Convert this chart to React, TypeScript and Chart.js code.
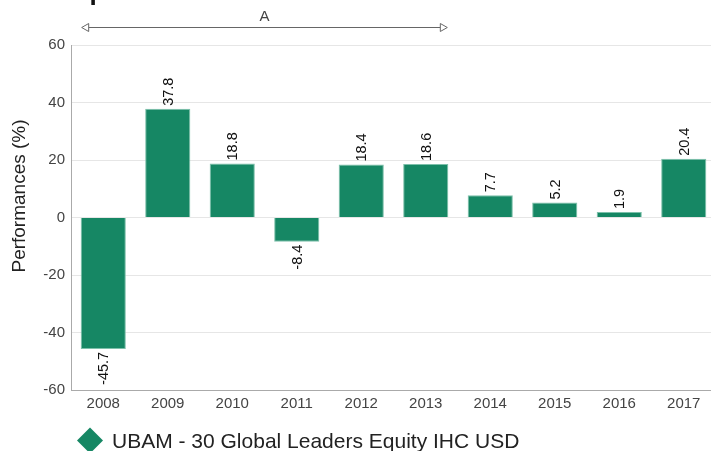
import React, { useEffect, useRef } from "react";
import { Chart, registerables } from "chart.js";

Chart.register(...registerables);

const years = ["2008", "2009", "2010", "2011", "2012", "2013", "2014", "2015", "2016", "2017"];
const performances = [-45.7, 37.8, 18.8, -8.4, 18.4, 18.6, 7.7, 5.2, 1.9, 20.4];
const seriesName = "UBAM - 30 Global Leaders Equity IHC USD";
const yAxisTitle = "Performances (%)";
const periodLabel = "A";
const periodStartIndex = 0;
const periodEndIndex = 5;

const GREEN = "#168764";
const FONT = "'Liberation Sans', Arial, sans-serif";

export default function App() {
  const ref = useRef<HTMLCanvasElement | null>(null);

  useEffect(() => {
    if (!ref.current) return;

    const overlay = {
      id: "overlay",
      afterDatasetsDraw(chart: any) {
        const ctx = chart.ctx;
        const meta = chart.getDatasetMeta(0);
        ctx.save();
        // value labels
        ctx.font = `14.5px ${FONT}`;
        ctx.fillStyle = "#111";
        ctx.textBaseline = "middle";
        meta.data.forEach((el: any, i: number) => {
          const v = performances[i];
          ctx.save();
          if (v >= 0) {
            ctx.translate(el.x, el.y - 3);
            ctx.rotate(-Math.PI / 2);
            ctx.textAlign = "left";
          } else {
            ctx.translate(el.x, el.y + 3);
            ctx.rotate(-Math.PI / 2);
            ctx.textAlign = "right";
          }
          ctx.fillText(String(v), 0, 1);
          ctx.restore();
        });

        // period arrow
        const a: any = meta.data[periodStartIndex];
        const b: any = meta.data[periodEndIndex];
        const x1 = a.x - a.width / 2 + 1;
        const x2 = b.x + b.width / 2 - 1;
        const y = 27;
        ctx.strokeStyle = "#666";
        ctx.lineWidth = 1;
        ctx.beginPath();
        ctx.moveTo(x1 + 7, y + 0.5);
        ctx.lineTo(x2 - 7, y + 0.5);
        ctx.stroke();
        ctx.fillStyle = "#fff";
        ctx.beginPath();
        ctx.moveTo(x1, y + 0.5);
        ctx.lineTo(x1 + 7, y - 3.5);
        ctx.lineTo(x1 + 7, y + 4.5);
        ctx.closePath();
        ctx.fill();
        ctx.stroke();
        ctx.beginPath();
        ctx.moveTo(x2, y + 0.5);
        ctx.lineTo(x2 - 7, y - 3.5);
        ctx.lineTo(x2 - 7, y + 4.5);
        ctx.closePath();
        ctx.fill();
        ctx.stroke();
        ctx.fillStyle = "#444";
        ctx.font = `15px ${FONT}`;
        ctx.textAlign = "center";
        ctx.textBaseline = "middle";
        ctx.fillText(periodLabel, (x1 + x2) / 2, 17);

        // cut-off title descender
        ctx.fillStyle = "#111";
        ctx.font = `bold 26px ${FONT}`;
        ctx.textAlign = "left";
        ctx.textBaseline = "alphabetic";
        ctx.fillText("p", 89.5, 0);

        // y axis title
        ctx.save();
        ctx.translate(20, 196);
        ctx.rotate(-Math.PI / 2);
        ctx.font = `19px ${FONT}`;
        ctx.fillStyle = "#222";
        ctx.textAlign = "center";
        ctx.textBaseline = "middle";
        ctx.fillText(yAxisTitle, 0, 0);
        ctx.restore();

        // legend
        const cx = 90;
        const cy = 440.5;
        const r = 13;
        ctx.fillStyle = GREEN;
        ctx.beginPath();
        ctx.moveTo(cx, cy - r);
        ctx.lineTo(cx + r, cy);
        ctx.lineTo(cx, cy + r);
        ctx.lineTo(cx - r, cy);
        ctx.closePath();
        ctx.fill();
        ctx.fillStyle = "#222";
        ctx.font = `21px ${FONT}`;
        ctx.textAlign = "left";
        ctx.textBaseline = "alphabetic";
        ctx.fillText(seriesName, 112, 448);
        ctx.restore();
      },
    };

    const chart = new Chart(ref.current, {
      type: "bar",
      data: {
        labels: years,
        datasets: [
          {
            label: seriesName,
            data: performances,
            backgroundColor: GREEN,
            borderColor: "#7cc0aa",
            borderWidth: 1,
            barPercentage: 0.7,
            categoryPercentage: 1,
          },
        ],
      },
      options: {
        responsive: false,
        animation: false,
        devicePixelRatio: 1,
        layout: { padding: { top: 45, left: 0, right: 0, bottom: 0 } },
        plugins: {
          legend: { display: false },
          tooltip: { enabled: false },
          title: { display: false },
        },
        scales: {
          x: {
            grid: { display: false, drawTicks: false },
            border: { display: true, color: "#aaa" },
            ticks: { color: "#444", font: { size: 15, family: FONT }, padding: 5, maxRotation: 0 },
            afterFit(scale: any) {
              scale.height = 61;
            },
          },
          y: {
            min: -60,
            max: 60,
            grid: { color: "#e6e6e6", drawTicks: false },
            border: { display: true, color: "#aaa" },
            ticks: { stepSize: 20, color: "#444", font: { size: 15, family: FONT }, padding: 6 },
            afterFit(scale: any) {
              scale.width = 71;
            },
          },
        },
      },
      plugins: [overlay],
    } as any);

    return () => chart.destroy();
  }, []);

  return (
    <div
      style={{
        position: "fixed",
        left: 0,
        top: 0,
        width: 711,
        height: 451,
        overflow: "hidden",
        background: "#fff",
      }}
    >
      <canvas ref={ref} width={716} height={451} style={{ display: "block", width: 716, height: 451 }} />
    </div>
  );
}
